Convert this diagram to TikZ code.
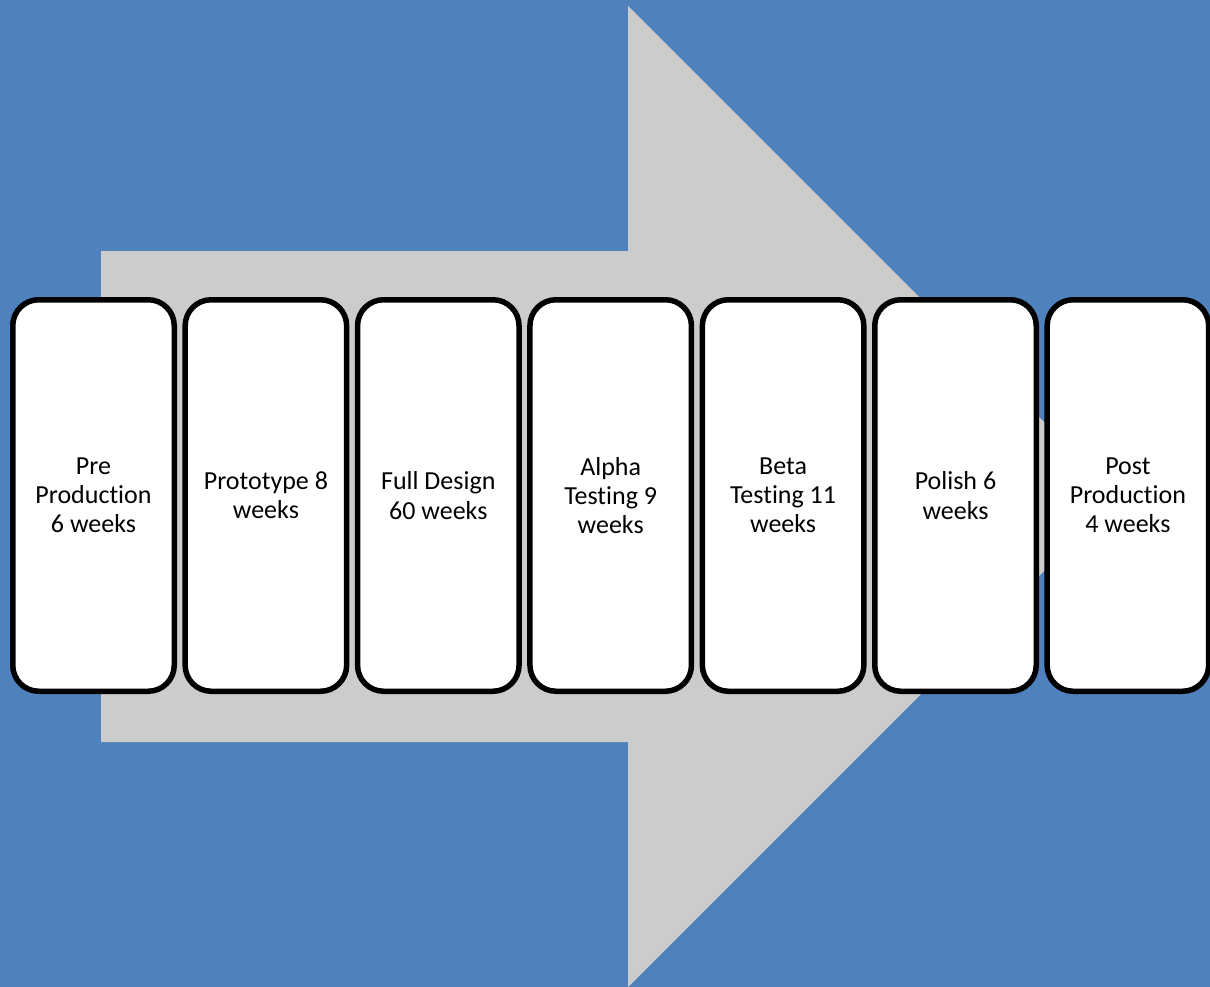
\documentclass[tikz,border=0pt]{standalone}
\usepackage{fontspec}
\setmainfont[Ligatures={NoCommon}]{Carlito}
\definecolor{bg}{HTML}{4F81BD}
\definecolor{arrowgray}{HTML}{CCCCCC}
\begin{document}
\begin{tikzpicture}[x=1pt,y=-1pt,
  phase/.style={draw=black, line width=5.5pt, fill=white, rounded corners=26pt,
    minimum width=161.5pt, minimum height=391.5pt, inner sep=0pt,
    align=center, font=\fontsize{26}{29.2}\selectfont, text=black}]
\useasboundingbox (0,0) rectangle (1210,987);
\fill[bg] (0,0) rectangle (1210,987);
\fill[arrowgray] (101,251) -- (628,251) -- (628,6) -- (1118.5,496.5) -- (628,987) -- (628,742) -- (101,742) -- cycle;
\node[phase] (p1) at (93.5,495.5) {Pre\\Production\\6 weeks};
\node[phase] (p2) at (265.9,495.5) {Prototype 8\\weeks};
\node[phase] (p3) at (438.3,495.5) {Full Design\\60 weeks};
\node[phase] (p4) at (610.7,495.5) {Alpha\\Testing 9\\weeks};
\node[phase] (p5) at (783.1,495.5) {Beta\\Testing 11\\weeks};
\node[phase] (p6) at (955.5,495.5) {Polish 6\\weeks};
\node[phase] (p7) at (1127.9,495.5) {Post\\Production\\4 weeks};
\end{tikzpicture}
\end{document}
